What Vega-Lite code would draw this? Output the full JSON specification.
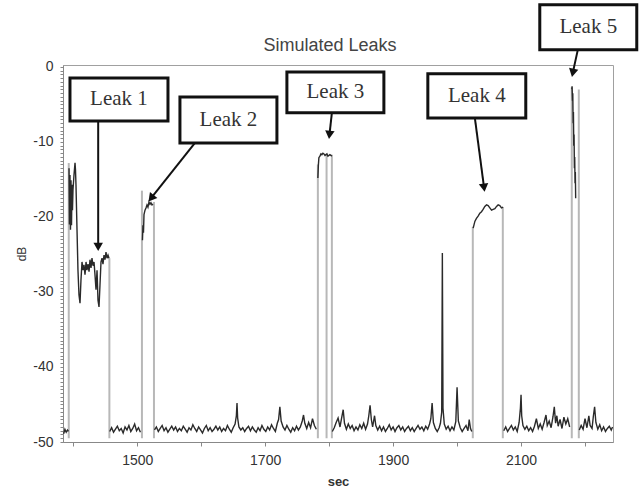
{
  "$schema": "https://vega.github.io/schema/vega-lite/v6.json",
  "autosize": {"type": "none"},
  "padding": {"left": 63, "top": 65, "right": 28, "bottom": 50},
  "width": 550,
  "height": 377,
  "title": {"text": "Simulated Leaks", "anchor": "middle", "fontSize": 18, "fontWeight": "normal", "font": "Liberation Sans", "color": "#444", "offset": 10, "dx": -8, "dy": 62},
  "config": {
    "view": {"stroke": "#a0a0a0", "strokeWidth": 1},
    "axis": {"grid": false, "domainColor": "#888", "tickColor": "#888", "labelColor": "#333", "labelFont": "Liberation Sans", "titleFont": "Liberation Sans", "titleColor": "#333", "labelOverlap": false, "labelFlush": false}
  },
  "datasets": {
    "sig": [
      {"sec":1385,"db":-48.9,"seg":"A"},{"sec":1387,"db":-48.3,"seg":"A"},{"sec":1389,"db":-48.7,"seg":"A"},{"sec":1391,"db":-48.4,"seg":"A"},{"sec":1392.5,"db":-48.6,"seg":"A"},
      {"sec":1393.4,"db":-13.5,"seg":"L1"},{"sec":1394.1,"db":-21.0,"seg":"L1"},{"sec":1394.9,"db":-14.4,"seg":"L1"},{"sec":1395.7,"db":-21.7,"seg":"L1"},{"sec":1396.5,"db":-15.1,"seg":"L1"},{"sec":1397.3,"db":-21.1,"seg":"L1"},{"sec":1398.1,"db":-15.7,"seg":"L1"},{"sec":1398.8,"db":-19.1,"seg":"L1"},{"sec":1399.6,"db":-16.4,"seg":"L1"},{"sec":1401.2,"db":-14.4,"seg":"L1"},{"sec":1402.8,"db":-12.8,"seg":"L1"},{"sec":1403.5,"db":-13.7,"seg":"L1"},{"sec":1404.3,"db":-15.7,"seg":"L1"},{"sec":1405.9,"db":-21.7,"seg":"L1"},{"sec":1407.4,"db":-27.1,"seg":"L1"},{"sec":1409.0,"db":-30.4,"seg":"L1"},{"sec":1410.6,"db":-31.5,"seg":"L1"},{"sec":1412.1,"db":-28.4,"seg":"L1"},{"sec":1413.7,"db":-26.0,"seg":"L1"},{"sec":1415.3,"db":-27.1,"seg":"L1"},{"sec":1416.8,"db":-26.4,"seg":"L1"},{"sec":1418.4,"db":-27.7,"seg":"L1"},{"sec":1420.0,"db":-26.0,"seg":"L1"},{"sec":1421.5,"db":-27.1,"seg":"L1"},{"sec":1423.1,"db":-26.3,"seg":"L1"},{"sec":1424.7,"db":-27.3,"seg":"L1"},{"sec":1426.2,"db":-25.7,"seg":"L1"},{"sec":1427.8,"db":-26.8,"seg":"L1"},{"sec":1429.3,"db":-25.5,"seg":"L1"},{"sec":1430.9,"db":-26.5,"seg":"L1"},{"sec":1432.5,"db":-26.0,"seg":"L1"},{"sec":1434.0,"db":-27.7,"seg":"L1"},{"sec":1435.6,"db":-29.7,"seg":"L1"},{"sec":1437.2,"db":-27.1,"seg":"L1"},{"sec":1438.7,"db":-31.1,"seg":"L1"},{"sec":1440.3,"db":-32.0,"seg":"L1"},{"sec":1441.8,"db":-29.1,"seg":"L1"},{"sec":1443.4,"db":-26.0,"seg":"L1"},{"sec":1445.0,"db":-25.5,"seg":"L1"},{"sec":1446.5,"db":-26.3,"seg":"L1"},{"sec":1448.1,"db":-25.1,"seg":"L1"},{"sec":1449.7,"db":-25.7,"seg":"L1"},{"sec":1451.2,"db":-24.7,"seg":"L1"},{"sec":1452.8,"db":-25.5,"seg":"L1"},{"sec":1454.4,"db":-25.1,"seg":"L1"},{"sec":1455.9,"db":-25.5,"seg":"L1"},
      {"sec":1457,"db":-48.6,"seg":"B"},{"sec":1460,"db":-48.1,"seg":"B"},{"sec":1463,"db":-48.7,"seg":"B"},{"sec":1466,"db":-48.3,"seg":"B"},{"sec":1469,"db":-47.9,"seg":"B"},{"sec":1472,"db":-48.5,"seg":"B"},{"sec":1475,"db":-48.2,"seg":"B"},{"sec":1478,"db":-48.8,"seg":"B"},{"sec":1481,"db":-48.0,"seg":"B"},{"sec":1484,"db":-48.4,"seg":"B"},{"sec":1487,"db":-47.8,"seg":"B"},{"sec":1490,"db":-48.6,"seg":"B"},{"sec":1493,"db":-48.2,"seg":"B"},{"sec":1496,"db":-47.6,"seg":"B"},{"sec":1499,"db":-48.5,"seg":"B"},{"sec":1502,"db":-48.1,"seg":"B"},{"sec":1505,"db":-48.7,"seg":"B"},
      {"sec":1508.2,"db":-23.1,"seg":"L2"},{"sec":1509.0,"db":-21.1,"seg":"L2"},{"sec":1509.8,"db":-22.1,"seg":"L2"},{"sec":1510.6,"db":-19.7,"seg":"L2"},{"sec":1512.2,"db":-19.1,"seg":"L2"},{"sec":1513.7,"db":-18.8,"seg":"L2"},{"sec":1515.3,"db":-18.4,"seg":"L2"},{"sec":1516.8,"db":-18.7,"seg":"L2"},{"sec":1518.4,"db":-18.0,"seg":"L2"},{"sec":1520.0,"db":-18.3,"seg":"L2"},{"sec":1521.5,"db":-18.1,"seg":"L2"},{"sec":1523.1,"db":-18.4,"seg":"L2"},{"sec":1524.7,"db":-18.3,"seg":"L2"},
      {"sec":1527,"db":-48.4,"seg":"C"},{"sec":1530,"db":-48.0,"seg":"C"},{"sec":1533,"db":-48.6,"seg":"C"},{"sec":1536,"db":-48.2,"seg":"C"},{"sec":1539,"db":-47.8,"seg":"C"},{"sec":1542,"db":-48.5,"seg":"C"},{"sec":1545,"db":-48.1,"seg":"C"},{"sec":1548,"db":-48.7,"seg":"C"},{"sec":1551,"db":-48.3,"seg":"C"},{"sec":1554,"db":-47.9,"seg":"C"},{"sec":1557,"db":-48.4,"seg":"C"},{"sec":1560,"db":-48.0,"seg":"C"},{"sec":1563,"db":-48.6,"seg":"C"},{"sec":1566,"db":-48.2,"seg":"C"},{"sec":1569,"db":-48.5,"seg":"C"},{"sec":1572,"db":-47.9,"seg":"C"},{"sec":1575,"db":-48.3,"seg":"C"},{"sec":1578,"db":-48.7,"seg":"C"},{"sec":1581,"db":-48.1,"seg":"C"},{"sec":1584,"db":-48.4,"seg":"C"},{"sec":1587,"db":-47.7,"seg":"C"},{"sec":1590,"db":-48.2,"seg":"C"},{"sec":1593,"db":-48.6,"seg":"C"},{"sec":1596,"db":-48.0,"seg":"C"},{"sec":1599,"db":-48.4,"seg":"C"},{"sec":1602,"db":-48.8,"seg":"C"},{"sec":1605,"db":-48.2,"seg":"C"},{"sec":1608,"db":-47.8,"seg":"C"},{"sec":1611,"db":-48.5,"seg":"C"},{"sec":1614,"db":-48.1,"seg":"C"},{"sec":1617,"db":-48.6,"seg":"C"},{"sec":1620,"db":-48.3,"seg":"C"},{"sec":1623,"db":-47.9,"seg":"C"},{"sec":1626,"db":-48.4,"seg":"C"},{"sec":1629,"db":-48.0,"seg":"C"},{"sec":1632,"db":-48.6,"seg":"C"},{"sec":1635,"db":-48.2,"seg":"C"},{"sec":1638,"db":-48.5,"seg":"C"},{"sec":1641,"db":-47.8,"seg":"C"},{"sec":1644,"db":-48.3,"seg":"C"},{"sec":1647,"db":-48.7,"seg":"C"},{"sec":1650,"db":-48.1,"seg":"C"},{"sec":1653,"db":-47.6,"seg":"C"},{"sec":1655,"db":-46.5,"seg":"C"},{"sec":1656,"db":-44.8,"seg":"C"},{"sec":1657,"db":-46.8,"seg":"C"},{"sec":1659,"db":-48.0,"seg":"C"},{"sec":1662,"db":-48.4,"seg":"C"},{"sec":1665,"db":-48.1,"seg":"C"},{"sec":1668,"db":-48.6,"seg":"C"},{"sec":1671,"db":-48.2,"seg":"C"},{"sec":1674,"db":-47.9,"seg":"C"},{"sec":1677,"db":-48.5,"seg":"C"},{"sec":1680,"db":-48.0,"seg":"C"},{"sec":1683,"db":-48.4,"seg":"C"},{"sec":1686,"db":-48.7,"seg":"C"},{"sec":1689,"db":-48.1,"seg":"C"},{"sec":1692,"db":-48.5,"seg":"C"},{"sec":1695,"db":-47.8,"seg":"C"},{"sec":1698,"db":-48.3,"seg":"C"},{"sec":1701,"db":-48.6,"seg":"C"},{"sec":1704,"db":-48.0,"seg":"C"},{"sec":1707,"db":-48.4,"seg":"C"},{"sec":1710,"db":-47.7,"seg":"C"},{"sec":1713,"db":-48.2,"seg":"C"},{"sec":1716,"db":-48.6,"seg":"C"},{"sec":1719,"db":-47.5,"seg":"C"},{"sec":1721,"db":-47.0,"seg":"C"},{"sec":1723,"db":-45.3,"seg":"C"},{"sec":1725,"db":-47.2,"seg":"C"},{"sec":1728,"db":-48.0,"seg":"C"},{"sec":1731,"db":-48.4,"seg":"C"},{"sec":1734,"db":-47.8,"seg":"C"},{"sec":1737,"db":-48.3,"seg":"C"},{"sec":1740,"db":-48.7,"seg":"C"},{"sec":1743,"db":-48.1,"seg":"C"},{"sec":1746,"db":-48.5,"seg":"C"},{"sec":1749,"db":-47.9,"seg":"C"},{"sec":1752,"db":-48.4,"seg":"C"},{"sec":1755,"db":-48.0,"seg":"C"},{"sec":1758,"db":-47.2,"seg":"C"},{"sec":1760,"db":-46.4,"seg":"C"},{"sec":1762,"db":-47.5,"seg":"C"},{"sec":1765,"db":-48.2,"seg":"C"},{"sec":1768,"db":-47.4,"seg":"C"},{"sec":1771,"db":-48.1,"seg":"C"},{"sec":1774,"db":-46.9,"seg":"C"},{"sec":1777,"db":-47.8,"seg":"C"},{"sec":1780,"db":-48.3,"seg":"C"},
      {"sec":1782.4,"db":-14.8,"seg":"L3"},{"sec":1783.2,"db":-13.1,"seg":"L3"},{"sec":1784.0,"db":-12.1,"seg":"L3"},{"sec":1785.6,"db":-11.9,"seg":"L3"},{"sec":1787.2,"db":-11.6,"seg":"L3"},{"sec":1788.7,"db":-11.7,"seg":"L3"},{"sec":1790.3,"db":-11.5,"seg":"L3"},{"sec":1791.9,"db":-11.6,"seg":"L3"},{"sec":1793.5,"db":-11.8,"seg":"L3"},{"sec":1795.0,"db":-11.7,"seg":"L3"},{"sec":1796.6,"db":-11.6,"seg":"L3"},{"sec":1798.1,"db":-11.9,"seg":"L3"},{"sec":1799.7,"db":-11.8,"seg":"L3"},{"sec":1801.2,"db":-11.7,"seg":"L3"},{"sec":1802.8,"db":-11.8,"seg":"L3"},{"sec":1804.3,"db":-11.9,"seg":"L3"},
      {"sec":1805,"db":-48.6,"seg":"D"},{"sec":1808,"db":-48.1,"seg":"D"},{"sec":1811,"db":-47.4,"seg":"D"},{"sec":1814,"db":-46.8,"seg":"D"},{"sec":1817,"db":-48.0,"seg":"D"},{"sec":1820,"db":-46.6,"seg":"D"},{"sec":1822,"db":-45.7,"seg":"D"},{"sec":1824,"db":-47.5,"seg":"D"},{"sec":1827,"db":-48.3,"seg":"D"},{"sec":1830,"db":-47.6,"seg":"D"},{"sec":1833,"db":-48.2,"seg":"D"},{"sec":1836,"db":-47.8,"seg":"D"},{"sec":1839,"db":-48.5,"seg":"D"},{"sec":1842,"db":-48.0,"seg":"D"},{"sec":1845,"db":-48.4,"seg":"D"},{"sec":1848,"db":-47.7,"seg":"D"},{"sec":1851,"db":-48.2,"seg":"D"},{"sec":1854,"db":-47.5,"seg":"D"},{"sec":1857,"db":-48.3,"seg":"D"},{"sec":1860,"db":-47.6,"seg":"D"},{"sec":1862,"db":-46.5,"seg":"D"},{"sec":1864,"db":-45.1,"seg":"D"},{"sec":1866,"db":-47.0,"seg":"D"},{"sec":1868,"db":-48.0,"seg":"D"},{"sec":1871,"db":-46.5,"seg":"D"},{"sec":1873,"db":-47.8,"seg":"D"},{"sec":1876,"db":-48.4,"seg":"D"},{"sec":1879,"db":-47.9,"seg":"D"},{"sec":1882,"db":-48.5,"seg":"D"},{"sec":1885,"db":-48.0,"seg":"D"},{"sec":1888,"db":-48.6,"seg":"D"},{"sec":1891,"db":-48.2,"seg":"D"},{"sec":1894,"db":-47.7,"seg":"D"},{"sec":1897,"db":-48.4,"seg":"D"},{"sec":1900,"db":-48.0,"seg":"D"},{"sec":1903,"db":-48.6,"seg":"D"},{"sec":1906,"db":-48.1,"seg":"D"},{"sec":1909,"db":-47.8,"seg":"D"},{"sec":1912,"db":-48.4,"seg":"D"},{"sec":1915,"db":-48.0,"seg":"D"},{"sec":1918,"db":-48.6,"seg":"D"},{"sec":1921,"db":-48.2,"seg":"D"},{"sec":1924,"db":-47.9,"seg":"D"},{"sec":1927,"db":-48.5,"seg":"D"},{"sec":1930,"db":-48.1,"seg":"D"},{"sec":1933,"db":-48.6,"seg":"D"},{"sec":1936,"db":-48.2,"seg":"D"},{"sec":1939,"db":-47.8,"seg":"D"},{"sec":1942,"db":-48.3,"seg":"D"},{"sec":1945,"db":-48.0,"seg":"D"},{"sec":1948,"db":-48.5,"seg":"D"},{"sec":1951,"db":-47.9,"seg":"D"},{"sec":1954,"db":-48.3,"seg":"D"},{"sec":1957,"db":-47.6,"seg":"D"},{"sec":1959,"db":-46.9,"seg":"D"},{"sec":1961,"db":-44.8,"seg":"D"},{"sec":1963,"db":-47.4,"seg":"D"},{"sec":1966,"db":-48.2,"seg":"D"},{"sec":1969,"db":-48.6,"seg":"D"},{"sec":1972,"db":-48.1,"seg":"D"},{"sec":1974,"db":-47.5,"seg":"D"},{"sec":1976,"db":-46.0,"seg":"D"},{"sec":1977,"db":-24.8,"seg":"D"},{"sec":1978,"db":-45.5,"seg":"D"},{"sec":1980,"db":-47.6,"seg":"D"},{"sec":1983,"db":-48.3,"seg":"D"},{"sec":1986,"db":-47.9,"seg":"D"},{"sec":1989,"db":-48.5,"seg":"D"},{"sec":1992,"db":-48.0,"seg":"D"},{"sec":1995,"db":-48.4,"seg":"D"},{"sec":1998,"db":-47.3,"seg":"D"},{"sec":2000,"db":-42.7,"seg":"D"},{"sec":2002,"db":-47.2,"seg":"D"},{"sec":2005,"db":-48.1,"seg":"D"},{"sec":2008,"db":-48.6,"seg":"D"},{"sec":2011,"db":-48.2,"seg":"D"},{"sec":2014,"db":-47.8,"seg":"D"},{"sec":2017,"db":-48.5,"seg":"D"},{"sec":2019,"db":-47.0,"seg":"D"},{"sec":2021,"db":-48.2,"seg":"D"},{"sec":2023,"db":-48.6,"seg":"D"},
      {"sec":2025.2,"db":-21.5,"seg":"L4"},{"sec":2027.8,"db":-20.6,"seg":"L4"},{"sec":2030.3,"db":-20.2,"seg":"L4"},{"sec":2032.9,"db":-19.9,"seg":"L4"},{"sec":2035.6,"db":-19.5,"seg":"L4"},{"sec":2038.2,"db":-19.3,"seg":"L4"},{"sec":2040.7,"db":-19.0,"seg":"L4"},{"sec":2043.4,"db":-18.6,"seg":"L4"},{"sec":2046.0,"db":-18.4,"seg":"L4"},{"sec":2048.6,"db":-18.5,"seg":"L4"},{"sec":2051.2,"db":-18.8,"seg":"L4"},{"sec":2053.9,"db":-19.1,"seg":"L4"},{"sec":2056.4,"db":-19.0,"seg":"L4"},{"sec":2059.1,"db":-18.9,"seg":"L4"},{"sec":2061.7,"db":-18.6,"seg":"L4"},{"sec":2064.2,"db":-18.4,"seg":"L4"},{"sec":2066.8,"db":-18.5,"seg":"L4"},{"sec":2069.5,"db":-18.8,"seg":"L4"},{"sec":2072.0,"db":-18.7,"seg":"L4"},
      {"sec":2073,"db":-48.5,"seg":"E"},{"sec":2076,"db":-48.0,"seg":"E"},{"sec":2079,"db":-48.6,"seg":"E"},{"sec":2082,"db":-48.2,"seg":"E"},{"sec":2085,"db":-47.8,"seg":"E"},{"sec":2088,"db":-48.4,"seg":"E"},{"sec":2091,"db":-48.0,"seg":"E"},{"sec":2094,"db":-48.6,"seg":"E"},{"sec":2097,"db":-47.4,"seg":"E"},{"sec":2099,"db":-45.5,"seg":"E"},{"sec":2100,"db":-43.7,"seg":"E"},{"sec":2101,"db":-46.5,"seg":"E"},{"sec":2103,"db":-47.8,"seg":"E"},{"sec":2106,"db":-48.3,"seg":"E"},{"sec":2109,"db":-47.9,"seg":"E"},{"sec":2112,"db":-48.5,"seg":"E"},{"sec":2115,"db":-48.1,"seg":"E"},{"sec":2118,"db":-48.6,"seg":"E"},{"sec":2121,"db":-47.9,"seg":"E"},{"sec":2124,"db":-46.9,"seg":"E"},{"sec":2127,"db":-48.2,"seg":"E"},{"sec":2130,"db":-47.6,"seg":"E"},{"sec":2133,"db":-48.3,"seg":"E"},{"sec":2136,"db":-47.4,"seg":"E"},{"sec":2139,"db":-46.4,"seg":"E"},{"sec":2141,"db":-47.8,"seg":"E"},{"sec":2144,"db":-47.2,"seg":"E"},{"sec":2147,"db":-48.1,"seg":"E"},{"sec":2150,"db":-46.6,"seg":"E"},{"sec":2152,"db":-45.3,"seg":"E"},{"sec":2154,"db":-47.5,"seg":"E"},{"sec":2156,"db":-46.5,"seg":"E"},{"sec":2158,"db":-47.9,"seg":"E"},{"sec":2161,"db":-47.0,"seg":"E"},{"sec":2164,"db":-48.2,"seg":"E"},{"sec":2167,"db":-46.7,"seg":"E"},{"sec":2170,"db":-47.6,"seg":"E"},{"sec":2173,"db":-46.9,"seg":"E"},{"sec":2176,"db":-48.0,"seg":"E"},
      {"sec":2179.3,"db":-3.0,"seg":"L5"},{"sec":2179.8,"db":-2.6,"seg":"L5"},{"sec":2180.4,"db":-4.5,"seg":"L5"},{"sec":2180.9,"db":-3.5,"seg":"L5"},{"sec":2181.4,"db":-7.5,"seg":"L5"},{"sec":2181.9,"db":-6.0,"seg":"L5"},{"sec":2182.4,"db":-10.5,"seg":"L5"},{"sec":2182.9,"db":-9.0,"seg":"L5"},{"sec":2183.4,"db":-13.5,"seg":"L5"},{"sec":2183.9,"db":-12.0,"seg":"L5"},{"sec":2184.4,"db":-15.5,"seg":"L5"},{"sec":2184.9,"db":-14.0,"seg":"L5"},{"sec":2185.4,"db":-17.5,"seg":"L5"},
      {"sec":2191,"db":-48.4,"seg":"F"},{"sec":2194,"db":-47.8,"seg":"F"},{"sec":2197,"db":-48.3,"seg":"F"},{"sec":2200,"db":-46.9,"seg":"F"},{"sec":2203,"db":-48.1,"seg":"F"},{"sec":2206,"db":-46.5,"seg":"F"},{"sec":2208,"db":-47.8,"seg":"F"},{"sec":2211,"db":-48.2,"seg":"F"},{"sec":2213,"db":-46.6,"seg":"F"},{"sec":2215,"db":-45.3,"seg":"F"},{"sec":2217,"db":-47.4,"seg":"F"},{"sec":2220,"db":-48.3,"seg":"F"},{"sec":2223,"db":-47.7,"seg":"F"},{"sec":2226,"db":-48.5,"seg":"F"},{"sec":2229,"db":-48.0,"seg":"F"},{"sec":2232,"db":-48.6,"seg":"F"},{"sec":2235,"db":-48.2,"seg":"F"},{"sec":2238,"db":-47.9,"seg":"F"},{"sec":2241,"db":-48.4,"seg":"F"},{"sec":2243,"db":-48.0,"seg":"F"}
    ],
    "edges": [
      {"sec":1393,"db":-49.5,"db2":-12.8},
      {"sec":1456.5,"db":-49.5,"db2":-25.5},
      {"sec":1507.4,"db":-49.5,"db2":-16.5},
      {"sec":1526.2,"db":-49.5,"db2":-18.0},
      {"sec":1782.4,"db":-49.5,"db2":-13.0},
      {"sec":1796,"db":-49.5,"db2":-11.7},
      {"sec":1804.3,"db":-49.5,"db2":-11.7},
      {"sec":2024.6,"db":-49.5,"db2":-21.3},
      {"sec":2071.5,"db":-49.5,"db2":-18.7},
      {"sec":2179.3,"db":-49.5,"db2":-2.7},
      {"sec":2190.3,"db":-49.5,"db2":-3.0}
    ],
    "arrows": [
      {"label":"Leak 1","sec":1439,"db":-24.0,"sec0":1439,"db0":-7.2},
      {"label":"Leak 2","sec":1521.7,"db":-17.5,"sec0":1590.3,"db0":-10.13},
      {"label":"Leak 3","sec":1800.5,"db":-9.07,"sec0":1804.3,"db0":-6.13},
      {"label":"Leak 4","sec":2042.2,"db":-16.1,"sec0":2027.8,"db0":-6.8},
      {"label":"Leak 5","sec":2180.9,"db":-0.8,"sec0":2188.7,"db0":2.27}
    ],
    "boxes": [
      {"label":"Leak 1","sec":1394.9,"sec2":1548.1,"db":-1.47,"db2":-7.2},
      {"label":"Leak 2","sec":1566.8,"sec2":1718.4,"db":-4.0,"db2":-10.13},
      {"label":"Leak 3","sec":1734.0,"sec2":1885.6,"db":-0.67,"db2":-6.13},
      {"label":"Leak 4","sec":1954.3,"sec2":2107.4,"db":-0.93,"db2":-6.8},
      {"label":"Leak 5","sec":2129.3,"sec2":2280.9,"db":8.27,"db2":2.27}
    ]
  },
  "encoding": {
    "x": {"field": "sec", "type": "quantitative", "scale": {"domain": [1384, 2243.75], "nice": false, "zero": false},
      "axis": {"title": "sec", "values": [1400,1500,1600,1700,1800,1900,2000,2100,2200], "labelExpr": "datum.value % 200 === 100 ? '' + datum.value : ''", "tickSize": 4, "labelPadding": 7, "labelFontSize": 14, "titleFontSize": 13, "titleFontWeight": "bold", "titlePadding": 8}},
    "y": {"field": "db", "type": "quantitative", "scale": {"domain": [-50, 0.25], "nice": false, "zero": false},
      "axis": {"title": "dB", "tickCount": 100, "labelExpr": "datum.value % 10 === 0 ? '' + datum.value : ''", "tickSize": 3, "labelPadding": 7, "labelFontSize": 14, "titleFontSize": 12, "titleFontWeight": "normal", "titlePadding": 4}}
  },
  "layer": [
    {"data": {"name": "edges"}, "mark": {"type": "rule", "color": "#b8b8b8", "strokeWidth": 2}, "encoding": {"y2": {"field": "db2"}}},
    {"data": {"name": "sig"}, "mark": {"type": "line", "color": "#2a2a2a", "strokeWidth": 1.4}, "encoding": {"detail": {"field": "seg", "type": "nominal"}}},
    {"data": {"name": "arrows"}, "mark": {"type": "rule", "color": "#111", "strokeWidth": 2}, "encoding": {"x2": {"field": "sec0"}, "y2": {"field": "db0"}}},
    {"data": {"name": "arrows"}, "transform": [{"calculate": "atan2(-(datum.sec - datum.sec0) * 0.64, -(datum.db - datum.db0) * 7.5) * 180 / PI", "as": "ang"}],
      "mark": {"type": "point", "shape": "triangle-down", "filled": true, "color": "#111", "size": 90, "opacity": 1},
      "encoding": {"angle": {"field": "ang", "type": "quantitative", "scale": null}}},
    {"data": {"name": "boxes"}, "mark": {"type": "rect", "fill": "white", "stroke": "#111", "strokeWidth": 3}, "encoding": {"x2": {"field": "sec2"}, "y2": {"field": "db2"}}},
    {"data": {"name": "boxes"}, "transform": [{"calculate": "(datum.sec + datum.sec2) / 2", "as": "sec"}, {"calculate": "(datum.db + datum.db2) / 2", "as": "db"}],
      "mark": {"type": "text", "font": "Liberation Serif", "fontSize": 21, "color": "#333", "baseline": "middle", "align": "center"},
      "encoding": {"text": {"field": "label"}}}
  ]
}
